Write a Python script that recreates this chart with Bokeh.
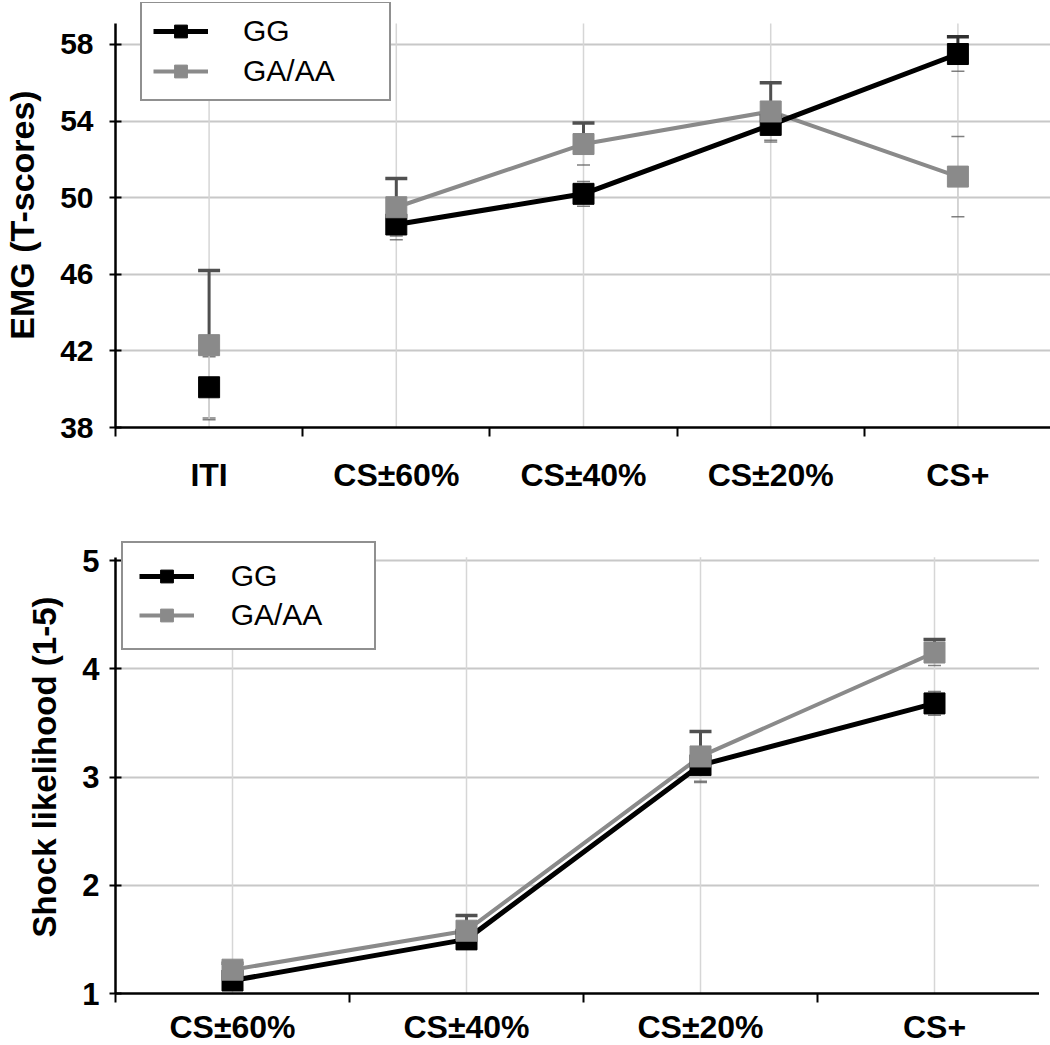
import numpy as np
from bokeh.plotting import figure
from bokeh.layouts import column
from bokeh.models import (FixedTicker, Range1d, Legend, LegendItem, ColumnDataSource)
from bokeh.embed import file_html
from bokeh.resources import INLINE

# ---------------- data ----------------
emg_categories = ["ITI", "CS\u00b160%", "CS\u00b140%", "CS\u00b120%", "CS+"]
emg_gg = [40.1, 48.6, 50.2, 53.8, 57.5]
emg_gg_se = [1.6, 0.8, 0.65, 0.9, 0.9]
emg_ga = [42.3, 49.5, 52.8, 54.5, 51.1]
emg_ga_se = [3.9, 1.5, 1.1, 1.5, 2.1]
emg_yticks = [38, 42, 46, 50, 54, 58]

shock_categories = ["CS\u00b160%", "CS\u00b140%", "CS\u00b120%", "CS+"]
shock_gg = [1.12, 1.50, 3.11, 3.68]
shock_gg_se = [0.05, 0.08, 0.16, 0.11]
shock_ga = [1.22, 1.58, 3.19, 4.15]
shock_ga_se = [0.06, 0.14, 0.23, 0.12]
shock_yticks = [1, 2, 3, 4, 5]

series_names = ["GG", "GA/AA"]
series_colors = ["#000000", "#8a8a8a"]

FONT = "Liberation Sans"


def make_chart(cats, gg, gg_se, ga, ga_se, yticks, yrange, axis_top, ylabel, height,
               frame_h, border_top, border_bottom, legend_loc,
               legend_spacing, legend_padding, legend_standoff, legend_label_w,
               ylabel_size, ytick_size, ytick_standoff, xlabel_standoff, line_start):
    n = len(cats)
    x = np.arange(n) + 0.5
    p = figure(width=1039, height=height, output_backend="svg",
               toolbar_location=None,
               x_range=Range1d(0, n), y_range=Range1d(*yrange),
               min_border_left=101, min_border_right=2,
               min_border_top=border_top, min_border_bottom=border_bottom,
               frame_width=936, frame_height=frame_h)
    p.outline_line_color = None
    p.background_fill_color = "white"
    p.border_fill_color = "white"

    # axes
    p.xaxis.ticker = FixedTicker(ticks=list(x), minor_ticks=list(np.arange(n + 1)))
    p.xaxis.major_label_overrides = {float(v): c for v, c in zip(x, cats)}
    p.xaxis.major_tick_line_color = None
    p.xaxis.major_tick_out = 0
    p.xaxis.major_tick_in = 0
    p.xaxis.minor_tick_line_color = "black"
    p.xaxis.minor_tick_line_width = 2
    p.xaxis.minor_tick_out = 9
    p.xaxis.minor_tick_in = 0
    p.xaxis.axis_line_width = 2.5
    p.xaxis.axis_line_color = "black"
    p.xaxis.major_label_text_font = FONT
    p.xaxis.major_label_text_font_style = "bold"
    p.xaxis.major_label_text_font_size = "32px"
    p.xaxis.major_label_text_color = "black"
    p.xaxis.major_label_standoff = xlabel_standoff

    p.yaxis.ticker = FixedTicker(ticks=yticks)
    p.yaxis.bounds = (yrange[0], axis_top)
    p.yaxis.minor_tick_line_color = None
    p.yaxis.major_tick_in = 6
    p.yaxis.major_tick_out = 6
    p.yaxis.major_tick_line_width = 2
    p.yaxis.axis_line_width = 2.5
    p.yaxis.axis_line_color = "black"
    p.yaxis.major_label_text_font = FONT
    p.yaxis.major_label_text_font_style = "bold"
    p.yaxis.major_label_text_font_size = ytick_size
    p.yaxis.major_label_text_color = "black"
    p.yaxis.major_label_standoff = ytick_standoff
    p.yaxis.axis_label = ylabel
    p.yaxis.axis_label_text_font = FONT
    p.yaxis.axis_label_text_font_style = "bold"
    p.yaxis.axis_label_text_font_size = ylabel_size
    p.yaxis.axis_label_text_color = "black"
    p.yaxis.axis_label_standoff = 16

    # vertical grid lines at category centres, limited to the axis extent
    p.xgrid.grid_line_color = None
    p.segment(x0=x, y0=[yrange[0]] * n, x1=x, y1=[axis_top] * n,
              line_color="#d6d6d6", line_width=1.5)
    p.ygrid.ticker = FixedTicker(ticks=yticks)
    p.ygrid.grid_line_color = "#c8c8c8"
    p.ygrid.grid_line_width = 2

    gg = np.array(gg); ga = np.array(ga)
    gg_se = np.array(gg_se); ga_se = np.array(ga_se)

    # faint whiskers (full range) and faint caps
    for vals, se in ((gg, gg_se), (ga, ga_se)):
        p.segment(x0=x, y0=vals - se, x1=x, y1=vals + se,
                  line_color="#d0d0d0", line_width=1.5)
        p.scatter(x=np.concatenate([x, x]),
                  y=np.concatenate([vals - se, vals + se]),
                  marker="dash", size=13, line_color="#606060",
                  line_width=1.5, line_alpha=0.8)

    # dark upper whisker for the series on top at each category
    top_vals = np.where(ga >= gg, ga, gg)
    top_se = np.where(ga >= gg, ga_se, gg_se)
    top_col = np.where(ga >= gg, "#505050", "#303030")
    p.segment(x0=x, y0=top_vals, x1=x, y1=top_vals + top_se,
              line_color=list(top_col), line_width=3)
    p.scatter(x=x, y=top_vals + top_se, marker="dash", size=22,
              line_color=list(top_col), line_width=3.5)

    srcs = {}
    lines = {}
    marks = {}
    for name, vals in ((series_names[0], gg), (series_names[1], ga)):
        srcs[name] = ColumnDataSource(dict(x=x, y=vals))
        srcs[name + "_line"] = ColumnDataSource(dict(x=x[line_start:], y=vals[line_start:]))
    # lines: GA/AA below GG
    lines["GA/AA"] = p.line("x", "y", source=srcs["GA/AA_line"],
                            line_color=series_colors[1], line_width=4)
    lines["GG"] = p.line("x", "y", source=srcs["GG_line"],
                         line_color=series_colors[0], line_width=5)
    # markers: GG below GA/AA
    marks["GG"] = p.scatter("x", "y", source=srcs["GG"], marker="square", size=21,
                            fill_color=series_colors[0], line_color=series_colors[0])
    marks["GA/AA"] = p.scatter("x", "y", source=srcs["GA/AA"], marker="square", size=21,
                               fill_color=series_colors[1], line_color=series_colors[1])

    items = [LegendItem(label=nm, renderers=[lines[nm], marks[nm]]) for nm in series_names]

    legend = Legend(items=items, location=legend_loc, orientation="vertical")
    legend.border_line_color = "#222222"
    legend.border_line_width = 2
    legend.background_fill_color = "white"
    legend.background_fill_alpha = 1
    legend.label_text_font = FONT
    legend.label_text_font_size = "30px"
    legend.label_text_color = "black"
    legend.glyph_width = 55
    legend.glyph_height = 32
    legend.label_height = 32
    legend.label_width = legend_label_w
    legend.label_standoff = legend_standoff
    legend.spacing = legend_spacing
    legend.padding = legend_padding
    legend.margin = 0
    p.add_layout(legend, "center")
    return p


top_frame_h = 425
bot_frame_h = 453
p1 = make_chart(emg_categories, emg_gg, emg_gg_se, emg_ga, emg_ga_se,
                emg_yticks, (38, 60.19), 59.1, "EMG (T-scores)", 497,
                top_frame_h, 2, 70, (25, top_frame_h - 99), 6, 11, 35, 135,
                "34px", "30px", 16, 20, 1)
p2 = make_chart(shock_categories, shock_gg, shock_gg_se, shock_ga, shock_ga_se,
                shock_yticks, (1, 5.185), 5.03, "Shock likelihood (1-5)", 540,
                bot_frame_h, 43, 44, (25, bot_frame_h - 110), 5, 16, 37, 127,
                "33px", "31px", 10, 6, 0)

layout = column(p1, p2, spacing=0)
open("out.html", "w").write(file_html(layout, INLINE))
